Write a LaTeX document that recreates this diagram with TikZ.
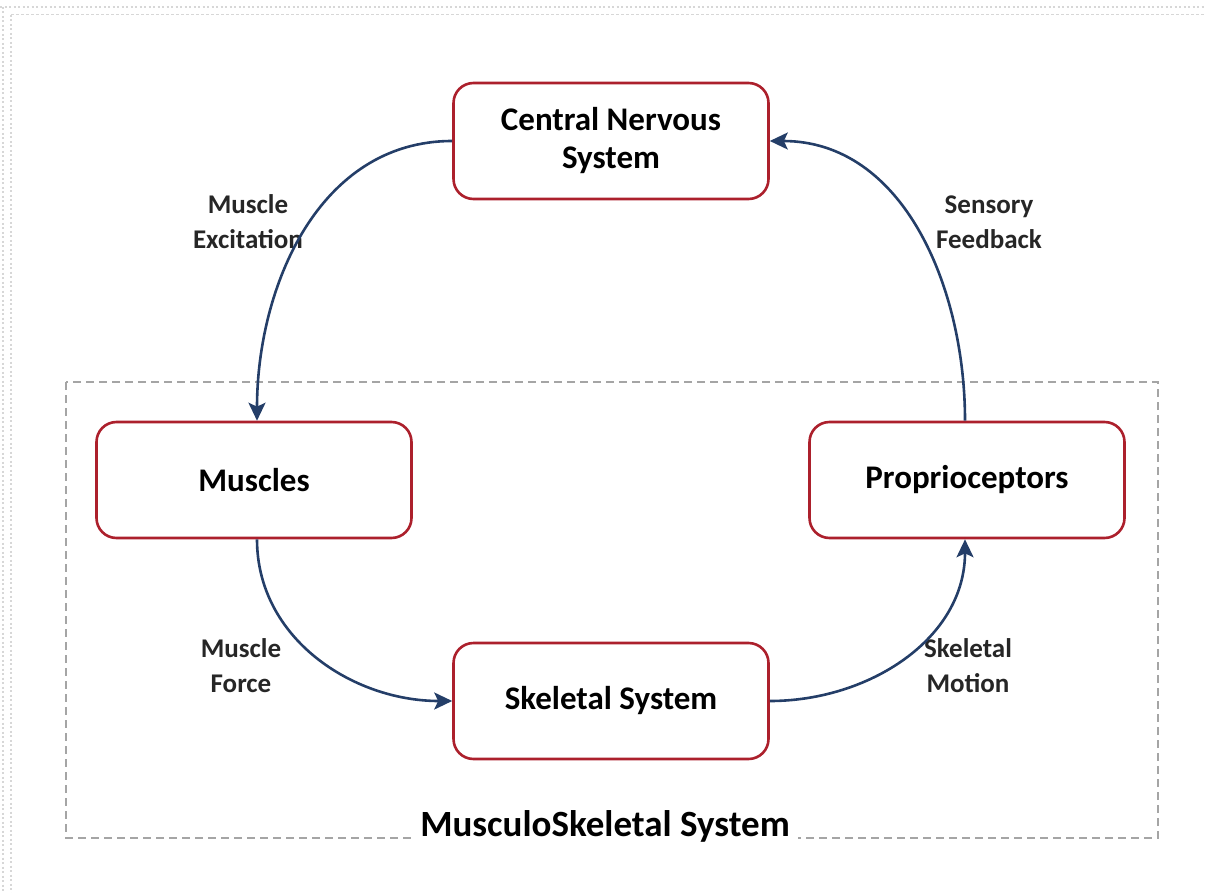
\documentclass[tikz,border=0pt]{standalone}
\usepackage{fontspec}
\setmainfont{Carlito}
\usetikzlibrary{positioning,arrows.meta}

\definecolor{boxred}{RGB}{172,32,44}
\definecolor{arrowblue}{RGB}{36,62,104}
\definecolor{framegray}{RGB}{165,165,165}
\definecolor{edgegray}{RGB}{215,215,215}

\tikzset{
    sysbox/.style={draw=boxred, line width=2.6pt, rounded corners=20pt,
        fill=white, minimum width=315pt, minimum height=116pt, align=center,
        font=\bfseries\fontsize{33}{38}\selectfont},
    flowlabel/.style={align=center, text=black!85, font=\bfseries\fontsize{27}{35}\selectfont},
    flow/.style={draw=arrowblue, line width=2.6pt,
        -{Stealth[length=18pt,width=17pt,inset=4pt]}},
}

\begin{document}
\begin{tikzpicture}[x=1pt,y=-1pt]

    \useasboundingbox (0,0) rectangle (1206,893);

    % page edge
    \draw[edgegray, line width=1.5pt, dash pattern=on 2pt off 2.5pt] (0,7) -- (1206,7);
    \draw[edgegray, line width=1.5pt, dash pattern=on 2pt off 2.5pt] (3,7) -- (3,893);
    \draw[edgegray, line width=1pt, dash pattern=on 3pt off 2pt] (11,15) -- (1206,15);
    \draw[edgegray, line width=1.5pt, dash pattern=on 2pt off 2.5pt] (11,15) -- (11,893);

    % musculoskeletal frame
    \draw[framegray, line width=2pt, dash pattern=on 8pt off 5pt] (66,382) rectangle (1158,838);
    \node[fill=white, inner xsep=8pt, font=\bfseries\fontsize{37}{42}\selectfont] (msk) at (605,826)
        {MusculoSkeletal System};

    % boxes
    \node[sysbox] (cns) at (611,141) {Central Nervous\\System};
    \node[sysbox] (muscles) at (254,480) {Muscles};
    \node[sysbox] (proprio) at (967,480) {Proprioceptors};
    \node[sysbox] (skeletal) at (611,701) {Skeletal System};

    % labels
    \node[flowlabel] (excite) at (248,222) {Muscle\\Excitation};
    \node[flowlabel] (feedback) at (989,222) {Sensory\\Feedback};
    \node[flowlabel] (force) at (241,666) {Muscle\\Force};
    \node[flowlabel] (motion) at (968,666) {Skeletal\\Motion};

    % loop
    \draw[flow] (cns.west) to[out=180,in=90] ([xshift=3pt]muscles.north);
    \draw[flow] ([xshift=3pt]muscles.south) to[out=-90,in=180] (skeletal.west);
    \draw[flow] (skeletal.east) to[out=0,in=-90] ([xshift=-2pt]proprio.south);
    \draw[flow] ([xshift=-2pt]proprio.north) to[out=90,in=0] (cns.east);

\end{tikzpicture}
\end{document}
